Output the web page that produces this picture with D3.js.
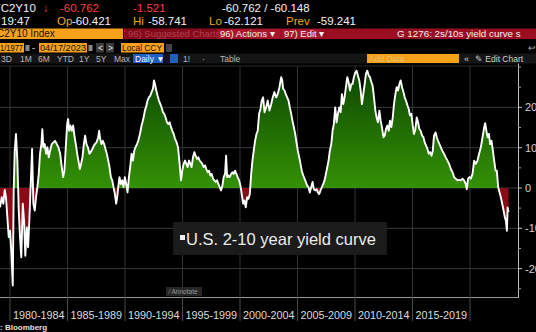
<!DOCTYPE html>
<html><head><meta charset="utf-8">
<script src="https://cdn.jsdelivr.net/npm/d3@7"></script>
<style>
html,body{margin:0;padding:0;background:#000;overflow:hidden}
svg{display:block;font-family:"Liberation Sans",Arial,sans-serif}
</style></head><body>
<svg id="c" width="536" height="332"></svg>
<script>
// ---- data ----
const years = [
1979.13,1979.28,1979.42,1979.54,1979.65,1979.77,1979.89,1980.00,1980.11,1980.24,
1980.32,1980.41,1980.52,1980.64,1980.76,1980.87,1980.98,1981.11,1981.22,1981.33,
1981.46,1981.57,1981.68,1981.80,1981.92,1982.03,1982.15,1982.26,1982.38,1982.50,
1982.61,1982.73,1982.81,1982.90,1983.02,1983.14,1983.25,1983.37,1983.48,1983.63,
1983.77,1983.92,1984.07,1984.21,1984.36,1984.50,1984.62,1984.73,1984.85,1984.97,
1985.05,1985.14,1985.25,1985.37,1985.49,1985.60,1985.72,1985.84,1985.95,1986.07,
1986.18,1986.30,1986.42,1986.53,1986.65,1986.77,1986.91,1987.08,1987.23,1987.38,
1987.52,1987.67,1987.75,1987.84,1987.95,1988.07,1988.19,1988.30,1988.42,1988.54,
1988.65,1988.77,1988.89,1989.00,1989.12,1989.23,1989.32,1989.41,1989.52,1989.64,
1989.76,1989.87,1989.99,1990.10,1990.22,1990.34,1990.45,1990.57,1990.69,1990.80,
1990.91,1991.04,1991.15,1991.30,1991.44,1991.59,1991.73,1991.87,1991.96,1992.08,
1992.20,1992.31,1992.43,1992.52,1992.60,1992.72,1992.83,1992.95,1993.07,1993.18,
1993.30,1993.41,1993.53,1993.65,1993.76,1993.88,1994.00,1994.11,1994.23,1994.35,
1994.49,1994.61,1994.75,1994.87,1994.98,1995.10,1995.22,1995.33,1995.44,1995.57,
1995.68,1995.79,1995.91,1996.03,1996.14,1996.26,1996.38,1996.49,1996.61,1996.72,
1996.84,1996.96,1997.07,1997.19,1997.31,1997.42,1997.53,1997.66,1997.77,1997.88,
1998.00,1998.12,1998.23,1998.35,1998.47,1998.58,1998.70,1998.79,1998.88,1998.99,
1999.10,1999.23,1999.34,1999.45,1999.57,1999.69,1999.80,1999.92,2000.04,2000.15,
2000.27,2000.38,2000.50,2000.62,2000.73,2000.85,2000.97,2001.08,2001.19,2001.31,
2001.43,2001.54,2001.66,2001.78,2001.89,2002.01,2002.13,2002.27,2002.41,2002.56,
2002.71,2002.85,2002.99,2003.15,2003.28,2003.43,2003.58,2003.67,2003.75,2003.87,
2003.98,2004.10,2004.22,2004.33,2004.45,2004.56,2004.68,2004.80,2004.91,2005.03,
2005.15,2005.26,2005.37,2005.50,2005.61,2005.72,2005.84,2005.96,2006.07,2006.19,
2006.31,2006.42,2006.54,2006.66,2006.77,2006.89,2007.00,2007.12,2007.24,2007.35,
2007.47,2007.59,2007.70,2007.81,2007.94,2008.05,2008.16,2008.28,2008.40,2008.51,
2008.63,2008.75,2008.86,2008.98,2009.09,2009.21,2009.33,2009.44,2009.56,2009.68,
2009.79,2009.90,2010.03,2010.14,2010.25,2010.37,2010.49,2010.60,2010.72,2010.84,
2010.95,2011.07,2011.19,2011.30,2011.42,2011.53,2011.65,2011.77,2011.88,2011.99,
2012.12,2012.23,2012.34,2012.47,2012.58,2012.69,2012.81,2012.93,2013.04,2013.16,
2013.28,2013.39,2013.51,2013.62,2013.74,2013.86,2013.97,2014.09,2014.21,2014.32,
2014.43,2014.56,2014.67,2014.78,2014.90,2015.02,2015.13,2015.25,2015.37,2015.48,
2015.60,2015.71,2015.83,2015.95,2016.06,2016.18,2016.30,2016.41,2016.53,2016.65,
2016.76,2016.87,2017.00,2017.11,2017.22,2017.34,2017.46,2017.60,2017.74,2017.89,
2018.04,2018.18,2018.33,2018.48,2018.62,2018.76,2018.92,2019.05,2019.20,2019.35,
2019.49,2019.63,2019.72,2019.83,2019.96,2020.07,2020.22,2020.36,2020.50,2020.65,
2020.79,2020.94,2021.09,2021.23,2021.32,2021.40,2021.52,2021.64,2021.75,2021.87,
2021.99,2022.10,2022.22,2022.33,2022.45,2022.57,2022.68,2022.80,2022.92,2023.03,
2023.12,2023.21,2023.27,2023.35
];
const spread = [
-48,-23,-39,-5,-23,-73,-122,-106,-156,-242,
-6,92,134,67,-56,-122,-172,-39,-81,-168,
-98,-147,-81,10,97,-39,-56,-23,2,35,
85,109,146,101,109,85,101,76,92,109,
113,117,109,101,85,52,27,43,101,159,
171,142,155,142,155,130,109,85,68,47,
60,76,109,130,109,101,85,92,101,109,
113,126,142,122,109,117,109,97,85,68,
52,27,19,2,-15,-39,-23,2,27,10,
19,2,27,10,-11,27,52,85,68,92,
101,109,117,134,155,171,192,205,217,225,
229,238,246,267,258,242,229,217,208,200,
188,184,175,163,159,163,151,142,134,122,
113,101,60,19,43,60,68,60,52,68,
60,52,76,89,80,72,76,68,64,60,
52,56,47,39,43,31,35,23,19,15,
19,10,2,-6,6,27,35,80,27,31,
27,35,39,35,43,35,27,19,6,-15,
-39,-31,-48,-23,-27,-15,35,68,92,117,
134,142,184,196,217,225,188,200,217,192,
208,225,238,225,233,250,275,267,246,242,
233,225,217,200,184,167,151,134,113,92,
76,60,43,31,23,15,6,2,-11,2,
15,-3,-6,-3,-11,-15,-6,2,10,19,
35,52,68,92,109,142,159,200,163,184,
200,188,233,208,225,250,275,263,242,258,
258,275,287,291,279,267,242,208,233,258,
283,291,279,275,263,254,225,192,175,163,
192,167,151,126,130,146,155,142,167,151,
175,208,233,250,242,258,267,250,238,225,
217,205,196,180,184,155,134,146,175,163,
146,142,130,126,113,105,97,85,89,80,
92,130,138,126,117,109,101,92,85,76,
68,60,47,39,27,23,19,20,19,23,
19,10,-3,23,27,23,35,68,60,68,
85,101,126,151,161,146,126,134,109,117,
92,68,43,43,2,-11,-23,-39,-56,-73,
-81,-106,-48,-60
];
const periodStarts = [1980,1985,1990,1995,2000,2005,2010,2015,2020];
const periodLabels = ["1980-1984","1985-1989","1990-1994","1995-1999","2000-2004","2005-2009","2010-2014","2015-2019"];
const yTicks = [-200,-100,0,100,200];
const yMinorTicks = [-250,-150,-50,50,150,250,300];
const legendLabel = "U.S. 2-10 year yield curve";

// ---- helpers ----
function toDate(y){const yr=Math.floor(y);const s=new Date(yr,0,1),e=new Date(yr+1,0,1);return new Date(+s+(y-yr)*(e-s));}
const data = years.map((y,i)=>({d:toDate(y),v:spread[i]}));

const svg = d3.select("#c");
const W=536,H=332;
const plot={left:0,right:518,top:66,bottom:297};

const x = d3.scaleTime().domain([new Date(1980,0,1),new Date(2020,0,1)]).range([10,470]);
const y = d3.scaleLinear().domain([-270.5,302.7]).range([plot.bottom,plot.top]);

const defs = svg.append("defs");
const g = defs.append("linearGradient").attr("id","gg").attr("gradientUnits","userSpaceOnUse")
  .attr("x1",0).attr("x2",0).attr("y1",plot.top).attr("y2",y(0));
g.append("stop").attr("offset","0%").attr("stop-color","#0b4400");
g.append("stop").attr("offset","100%").attr("stop-color","#349106");
defs.append("clipPath").attr("id","cPos").append("rect").attr("x",plot.left).attr("y",plot.top).attr("width",plot.right-plot.left).attr("height",y(0)-plot.top);
defs.append("clipPath").attr("id","cNeg").append("rect").attr("x",plot.left).attr("y",y(0)).attr("width",plot.right-plot.left).attr("height",plot.bottom-y(0));
defs.append("clipPath").attr("id","cAll").append("rect").attr("x",plot.left).attr("y",plot.top-2).attr("width",plot.right-plot.left).attr("height",plot.bottom-plot.top+2);

svg.append("rect").attr("width",W).attr("height",H).attr("fill","#000");

// grid
const grid = svg.append("g");
grid.selectAll("line.h").data(yTicks).join("line")
  .attr("x1",plot.left).attr("x2",plot.right).attr("y1",d=>y(d)).attr("y2",d=>y(d))
  .attr("stroke","#3a3a3a").attr("stroke-width",1);
grid.selectAll("line.v").data(periodStarts).join("line")
  .attr("x1",d=>x(new Date(d,0,1))).attr("x2",d=>x(new Date(d,0,1)))
  .attr("y1",plot.top).attr("y2",plot.bottom)
  .attr("stroke","#333").attr("stroke-width",1);
svg.append("line").attr("x1",0).attr("x2",plot.right).attr("y1",plot.top).attr("y2",plot.top).attr("stroke","#2a2a2a");

// areas
const area = d3.area().x(d=>x(d.d)).y0(y(0)).y1(d=>y(d.v));
svg.append("path").datum(data).attr("d",area).attr("fill","url(#gg)").attr("clip-path","url(#cPos)");
svg.append("path").datum(data).attr("d",area).attr("fill","#8c0a17").attr("clip-path","url(#cNeg)");
// line
const line = d3.line().x(d=>x(d.d)).y(d=>y(d.v));
svg.append("path").datum(data).attr("d",line).attr("fill","none").attr("stroke","#fff").attr("stroke-width",1.9)
  .attr("stroke-linejoin","round").attr("clip-path","url(#cAll)");

// right axis
const ax = svg.append("g");
ax.append("line").attr("x1",plot.right+0.5).attr("x2",plot.right+0.5).attr("y1",plot.top-3).attr("y2",plot.bottom).attr("stroke","#bdbdbd");
ax.selectAll("line.mj").data(yTicks).join("line").attr("x1",plot.right).attr("x2",plot.right+4)
  .attr("y1",d=>y(d)).attr("y2",d=>y(d)).attr("stroke","#bdbdbd");
ax.selectAll("line.mn").data(yMinorTicks).join("line").attr("x1",plot.right).attr("x2",plot.right+3)
  .attr("y1",d=>y(d)).attr("y2",d=>y(d)).attr("stroke","#9a9a9a");
ax.selectAll("text").data(yTicks).join("text").attr("x",plot.right+7).attr("y",d=>y(d)).attr("dy","0.36em")
  .attr("fill","#d0d0d0").attr("font-size",11).text(d=>d);

// bottom axis
svg.append("line").attr("x1",0).attr("x2",plot.right+1).attr("y1",plot.bottom+0.5).attr("y2",plot.bottom+0.5).attr("stroke","#9a9a9a");
svg.selectAll("line.sep").data(periodStarts).join("line")
  .attr("x1",d=>x(new Date(d,0,1))).attr("x2",d=>x(new Date(d,0,1)))
  .attr("y1",plot.bottom).attr("y2",321).attr("stroke","#4a4a4a");
svg.selectAll("text.xl").data(periodLabels).join("text")
  .attr("x",(d,i)=>(x(new Date(periodStarts[i],0,1))+x(new Date(periodStarts[i+1],0,1)))/2)
  .attr("y",319).attr("text-anchor","middle").attr("fill","#dcdcdc").attr("font-size",10.8).text(d=>d);

// legend
svg.append("rect").attr("x",173).attr("y",222).attr("width",214).attr("height",33).attr("fill","#1b1b1b");
svg.append("rect").attr("x",180).attr("y",235).attr("width",5).attr("height",5).attr("fill","#eee");
svg.append("text").attr("x",186).attr("y",245).attr("fill","#ececec").attr("font-size",16.5).text(legendLabel);

// annotate button
svg.append("rect").attr("x",166).attr("y",287).attr("width",36).attr("height",9).attr("fill","#262626");
svg.append("text").attr("x",169).attr("y",294).attr("fill","#9a9a9a").attr("font-size",6.5).text("⁄  Annotate");

// source
svg.append("text").attr("x",0).attr("y",330).attr("fill","#e0e0e0").attr("font-size",8).attr("font-weight","bold").text(": Bloomberg");

// ---- header ----
function t(xp,yp,s,fill,size,opt){const e=svg.append("text").attr("x",xp).attr("y",yp).attr("fill",fill).attr("font-size",size).text(s);if(opt&&opt.w)e.attr("font-weight",opt.w);if(opt&&opt.a)e.attr("text-anchor",opt.a);if(opt&&opt.len)e.attr("textLength",opt.len).attr("lengthAdjust","spacingAndGlyphs");return e;}
const RED="#ff3c3c",OR="#f5a31d",WH="#f2f2f2";
t(-7,12,"YC2Y10",WH,11.5);
t(43,12,"↓",RED,11.5);
t(60,12,"-60.762",RED,11.5);
t(133,12,"-1.521",RED,11.5);
t(222,12,"-60.762 / -60.148",WH,11.5);
t(1,25,"19:47",WH,11.5);
t(57,25,"Op",OR,11.5); t(72,25,"-60.421",WH,11.5);
t(133,25,"Hi",OR,11.5); t(148,25,"-58.741",WH,11.5);
t(209,25,"Lo",OR,11.5); t(224,25,"-62.121",WH,11.5);
t(286,25,"Prev",OR,11.5); t(317,25,"-59.241",WH,11.5);

// row 3
svg.append("rect").attr("x",0).attr("y",28.5).attr("width",123).attr("height",10.5).attr("fill","#f7a11a");
t(-3,37,"C2Y10 Index","#111",10);
svg.append("rect").attr("x",124).attr("y",28.5).attr("width",412).attr("height",10.5).attr("fill","#9b0e22");
svg.append("rect").attr("x",125).attr("y",29).attr("width",92).attr("height",9.5).attr("fill","#85091b");
t(128,37,"96) Suggested Charts","#b0424f",9.5);
svg.append("rect").attr("x",218).attr("y",29).attr("width",62).attr("height",9.5).attr("fill","#a8142a");
t(220,37,"96) Actions ▾",WH,9.5);
svg.append("rect").attr("x",282).attr("y",29).attr("width",39).attr("height",9.5).attr("fill","#a8142a");
t(284,37,"97) Edit ▾",WH,9.5);
t(397,37,"G 1276: 2s/10s yield curve s",WH,9.8);

// row 4
svg.append("rect").attr("x",0).attr("y",43).attr("width",24).attr("height",9.5).attr("fill","#f7a11a");
t(0,51,"1/1977","#111",9,{len:23});
svg.append("rect").attr("x",25.5).attr("y",45).attr("width",4).attr("height",6).attr("fill","#888");
t(32,51,"-",WH,9);
svg.append("rect").attr("x",39).attr("y",43).attr("width",48).attr("height",9.5).attr("fill","#f7a11a");
t(40,51,"04/17/2023","#111",9,{len:46});
svg.append("rect").attr("x",88.5).attr("y",45).attr("width",4).attr("height",6).attr("fill","#888");
svg.append("rect").attr("x",96).attr("y",43).attr("width",8).attr("height",9.5).attr("fill","#3a3a3a");
t(98,51,"<",WH,8.5);
svg.append("rect").attr("x",106).attr("y",43).attr("width",8).attr("height",9.5).attr("fill","#3a3a3a");
t(108,51,">",WH,8.5);
svg.append("rect").attr("x",121).attr("y",43).attr("width",43).attr("height",9.5).attr("fill","#f7a11a");
t(122,51,"Local CCY","#111",9,{len:40});
svg.append("rect").attr("x",166).attr("y",44).attr("width",6).attr("height",8).attr("fill","#444");
t(528,51,"↩","#aaa",9);

// row 5
svg.append("rect").attr("x",0).attr("y",53.5).attr("width",536).attr("height",10).attr("fill","#151515");
const r5 = [["3D",1],["1M",20],["6M",38],["YTD",57],["1Y",79],["5Y",96],["Max",114]];
r5.forEach(([s,xp])=>t(xp,61.5,s,"#b8b8b8",8.5));
svg.append("rect").attr("x",133).attr("y",54).attr("width",30).attr("height",9).attr("fill","#1f5fc2");
t(135,61.5,"Daily ▼",WH,8.5);
svg.append("rect").attr("x",170).attr("y",54).attr("width",8).attr("height",9).attr("fill","#1f5fc2");
t(183,61.5,"1!","#b8b8b8",8.5);
t(202,61.5,"·","#b8b8b8",8.5);
t(220,61.5,"Table","#b8b8b8",8.5);
svg.append("rect").attr("x",367).attr("y",54).attr("width",92).attr("height",9).attr("fill","#f7a11a");
t(369,61.5,"Add Data","#e9c070",8.5);
t(464,61.5,"«","#d0d0d0",9);
t(475,61.5,"✎ Edit Chart","#d0d0d0",8.5);
</script>
</body></html>
